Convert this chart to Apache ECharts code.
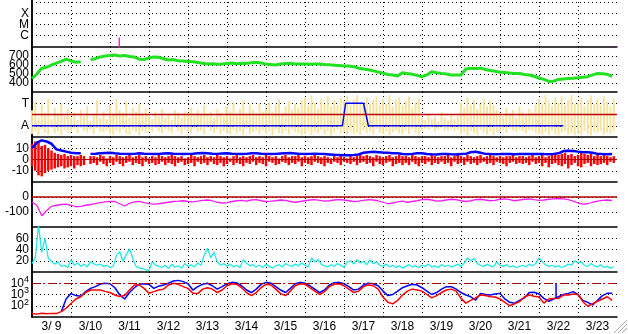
<!DOCTYPE html>
<html><head><meta charset="utf-8">
<script src="https://cdn.jsdelivr.net/npm/echarts@6/dist/echarts.min.js"></script>
<style>html,body{margin:0;padding:0;background:#fff}#c{width:628px;height:334px}</style>
</head><body><div id="c"></div>
<script>
// ---- categories / tick labels ----
const days = ['3/ 9','3/10','3/11','3/12','3/13','3/14','3/15','3/16','3/17','3/18','3/19','3/20','3/21','3/22','3/23'];
const xrayClassLabels = {'-6':'C','-5':'M','-4':'X'};
const sectorLabels = {'135':'A','315':'T'};

// ---- X-ray flux (hours from 3/9 00:00, W/m2) ----
const xrayHours = [0, 53.6, 53.7, 53.8, 54.8, 55, 359.5, 360];
const xrayFlux  = [5e-8, 5e-8, 6.8e-7, 1.3e-7, 1.2e-7, 5e-8, 5e-8, 1.1e-7];

// ---- Solar wind speed (3-hourly, km/s) ----
const speed = [450,500,565,575,600,620,640,665,
 645,630,635,null,660,670,690,700,
 705,712,700,705,695,688,665,660,
 680,690,685,670,655,660,648,645,
 640,635,628,620,612,615,608,612,
 618,622,615,620,618,625,630,622,
 610,605,600,610,618,620,612,610,
 612,608,612,610,605,602,598,595,
 590,588,580,565,555,548,535,522,
 510,495,488,478,515,505,497,485,
 470,490,525,515,507,500,490,488,
 490,555,565,560,565,550,540,530,
 520,518,510,505,505,495,488,475,
 455,440,418,420,440,445,450,452,
 458,465,470,490,505,502,497,475];

// ---- IMF phi angle spread per 2 hours (deg): low / high ----
const phiLo = [70,95,60,110,80,65,120,75,90,60,100,85,
 90,110,75,120,95,80,105,70,115,90,85,100,
 75,60,95,80,110,70,65,100,85,60,90,75,
 100,85,120,90,75,110,95,80,125,90,70,105,
 90,75,110,85,100,70,120,95,80,105,65,90,
 80,65,100,75,90,60,110,70,85,95,70,100,
 75,90,60,105,80,70,95,65,110,85,75,60,
 70,95,60,85,75,100,65,90,60,80,105,70,
 85,65,95,70,80,60,100,75,90,65,110,80,
 70,90,60,85,100,75,65,95,70,110,80,65,
 95,110,100,120,90,105,115,95,100,110,90,100,
 70,85,60,95,75,65,100,80,70,90,60,85,
 90,100,80,110,95,85,105,90,75,100,95,80,
 70,60,85,65,95,70,60,80,90,65,75,60,
 80,65,90,70,60,85,75,95,65,80,70,90];
const phiHi = [260,330,200,300,240,350,190,280,230,310,210,270,
 200,240,180,260,210,290,170,230,340,200,250,190,
 300,220,350,260,240,330,200,280,250,310,220,270,
 220,190,250,210,270,200,230,180,260,240,200,250,
 240,280,210,260,220,300,230,250,200,270,240,210,
 290,250,320,230,270,340,220,300,260,230,310,250,
 270,320,250,300,350,240,290,330,260,310,280,340,
 360,300,380,320,270,350,310,370,290,340,300,360,
 330,370,300,350,380,320,290,360,310,340,370,300,
 350,310,380,290,340,360,300,330,370,280,320,350,
 200,180,230,190,210,170,240,200,180,220,190,210,
 320,280,360,300,340,270,310,350,290,330,300,260,
 240,210,280,230,260,200,290,250,220,270,240,300,
 350,310,380,330,290,360,320,370,300,340,380,310,
 320,360,290,340,380,310,350,300,370,330,290,350];

// ---- sector polarity (A=135, T=315) ----
const sectorHours = [0, 191, 193, 204, 207, 327];
const sectorValues = [135, 135, 315, 315, 135, 135];
const sectorMid = 225;

// ---- IMF Bt (3-hourly, nT) ----
const bt = [10,15,17,16,14,9,8,7,6,5.5,5.5,null,
 5.0,5.2,5.5,5.8,6.0,5.5,5.2,5.0,4.8,5.0,5.5,5.2,5.0,4.8,5.0,5.3,
 5.5,5.2,5.0,4.8,5.0,5.2,5.5,5.8,5.5,5.2,5.0,5.4,5.6,5.2,5.0,4.8,
 5.0,5.5,5.6,5.2,5.0,4.8,5.0,5.4,5.6,5.8,5.4,5.0,4.8,5.0,5.2,5.0,
 4.8,4.5,4.2,4.0,3.8,3.8,4.0,4.5,6.0,6.5,6.8,6.5,6.2,6.0,5.6,5.5,
 4.8,4.7,5.0,5.6,5.5,4.8,4.6,4.5,4.8,5.0,4.7,4.5,4.8,5.0,6.5,6.8,
 6.0,5.0,4.8,4.7,4.8,5.0,4.8,4.6,4.8,5.0,4.9,4.8,5.0,4.8,4.7,5.0,
 5.5,7.5,7.8,7.6,7.0,6.5,6.4,6.0,5.0,4.8,4.7,4.8];

// ---- IMF Bz spread per 2 hours (nT): high / low ----
const bzHi = [14,16,15,12,13,10,8,6,5,4,5,3,4,3,3,4,3,null,3,
 3,2,4,3,1,3,2,4,3,2,3,4,
 2,3,4,2,3,1,3,2,4,3,2,3,
 4,3,2,3,1,2,4,3,2,3,4,2,
 3,2,4,3,2,3,1,3,4,2,3,2,
 3,4,2,3,2,4,3,2,3,1,3,4,
 2,3,3,4,2,3,2,3,4,3,2,3,
 2,1,3,2,3,2,1,3,2,3,4,3,
 4,3,2,4,3,2,3,4,2,3,4,3,
 3,2,4,3,2,3,3,2,4,3,2,3,
 3,4,2,3,5,3,2,4,3,2,3,4,
 2,3,4,3,2,3,2,3,3,4,2,3,
 3,2,3,4,2,3,4,2,3,4,5,4,
 5,6,4,5,3,4,6,5,4,5,3,4,
 3,4,3,2,3];
const bzLo = [-6,-10,-14,-15,-12,-10,-9,-8,-7,-6,-8,-7,-6,-8,-5,-6,-5,null,-4,
 -3,-5,-2,-4,-6,-3,-5,-2,-4,-6,-3,-2,
 -5,-3,-4,-6,-2,-4,-3,-5,-4,-2,-5,-3,
 -4,-6,-3,-2,-5,-4,-3,-6,-2,-4,-3,-5,
 -2,-4,-5,-3,-6,-4,-2,-5,-3,-4,-6,-3,
 -4,-2,-5,-3,-4,-6,-2,-3,-5,-4,-2,-3,
 -5,-3,-4,-2,-6,-3,-4,-5,-2,-3,-4,-6,
 -3,-4,-2,-3,-5,-2,-3,-4,-2,-5,-3,-2,
 -4,-3,-6,-2,-4,-5,-3,-2,-6,-4,-3,-5,
 -3,-5,-2,-4,-6,-3,-4,-2,-5,-3,-4,-2,
 -4,-3,-6,-2,-4,-3,-5,-2,-4,-3,-5,-3,
 -2,-4,-3,-5,-2,-3,-4,-6,-3,-2,-4,-3,
 -4,-3,-5,-2,-4,-3,-6,-3,-7,-4,-3,-5,
 -6,-4,-8,-5,-3,-6,-7,-4,-3,-6,-4,-5,
 -4,-3,-5,-2,-3];

// ---- Dst (3-hourly, nT) ----
const dst = [-33,-55,-125,-90,-62,-55,-50,-48,-55,-65,-62,-55,
 -50,-44,-38,-32,-29,-30,-45,-60,-42,-32,-29,-38,
 -44,-48,-45,-40,-35,-30,-28,-25,-30,-32,-28,-22,
 -20,-25,-35,-40,-38,-30,-25,-22,-28,-20,-18,-25,
 -30,-28,-25,-20,-22,-30,-35,-30,-25,-20,-18,-22,
 -28,-25,-20,-18,-20,-25,-30,-28,-22,-18,-20,-25,
 -35,-45,-40,-32,-28,-35,-30,-25,-18,-15,-20,-28,
 -25,-20,-15,-18,-25,-30,-25,-18,-15,-20,-25,-22,
 -15,-12,-18,-25,-20,-15,-12,-18,-22,-20,-15,-12,
 -10,-12,-18,-28,-40,-48,-45,-35,-28,-22,-20,-22];

// ---- cyan index (2-hourly) ----
const cyanIdx = [15,25,83,35,60,24,19,14,18,10,12,8,22,12,16,10,14,9,18,15,
 12,14,10,12,8,10,30,36,19,31,41,25,10,7,6,4,3,18,12,10,
 8,12,6,14,9,11,7,15,10,13,
 9,16,12,30,42,25,35,18,12,15,
 10,14,9,12,8,22,16,11,13,9,
 12,8,14,10,7,11,13,9,15,12,
 10,14,11,16,12,9,25,18,22,14,
 11,9,13,10,15,12,8,18,20,14,
 22,16,19,13,21,15,18,12,10,14,
 9,12,8,11,7,10,13,9,11,8,
 12,10,14,9,11,8,13,10,12,9,
 11,14,10,16,25,20,24,15,12,10,
 14,11,9,18,12,10,13,9,11,8,
 10,12,9,14,11,15,25,18,13,10,
 12,9,11,8,10,14,12,20,16,18,
 12,10,15,11,9,13,8,10,7,9];

// ---- electron flux (3-hourly) ----
const eBlue = [null,null,null,null,null,null,
 30,400,1200,800,700,1800,3500,5000,8500,9800,9000,4000,900,400,1500,4000,8500,8500,8000,3500,5500,7000,10000,16000,18000,14000,9000,2500,5000,
 8000,10000,6000,3000,5000,9000,12000,11000,6000,2500,1500,3000,8000,12000,10000,5000,2500,1500,3500,9000,12000,10000,6000,3000,1500,2500,7000,11000,12000,9000,5000,2500,3000,7000,10000,9000,6000,2000,800,1000,2000,4000,6000,8000,7000,4000,2000,1000,1500,3000,5000,5000,3000,
 1500,900,630,320,1260,1000,900,1100,1260,400,200,170,300,500,1500,1600,1100,450,250,400,630,1000,1260,1800,1000,300,200,120,300,800,1260,1260];
const eRed = [20,18,22,19,21,20,
 30,60,160,400,630,1500,2500,2500,2500,1900,1500,900,650,800,2500,6900,7000,3500,1300,1800,2500,3000,7000,9800,8000,5000,3500,1300,1200,
 3000,4000,3000,1500,2500,6000,9000,8000,4000,1500,800,1500,4000,8000,7000,3000,1200,800,2000,6000,9000,8000,4000,2000,1000,1800,5000,8000,9000,6000,3000,1500,2000,5000,7000,6000,3000,600,200,150,300,900,2000,3000,2500,2000,1000,500,800,1500,2500,3000,2000,
 450,170,300,500,900,800,630,600,400,200,100,150,230,600,900,700,600,170,400,450,460,900,900,1100,1000,230,90,150,250,400,630,300];
const eSpikeHours = [322.5, 322.5];
const eSpikeFlux = [500, 10000];
const eThreshold = 1e4;

// ---- layout ----
const FONT = "'Liberation Sans', Arial, Helvetica, sans-serif";
const panelTops = [2, 47, 92, 137, 182, 227, 272];
const panelH = 45;
const dotted = {color:'#000', type:[1,3], width:1};
const black = {color:'#000', width:1.5};

function pairs(step, arr){ return arr.map((v,i)=>[i*step, v]); }
function zip(xs, ys){ return xs.map((x,i)=>[x, ys[i]]); }
function triples(step, lo, hi){ return lo.map((v,i)=>[i*step, v, hi[i]]); }

const grids = panelTops.map(t => ({left:32, right:11, top:t, height:panelH}));
grids.push({left:32, right:11, top:0, height:317});

const xAxes = panelTops.map((t,i) => ({
  type:'value', gridIndex:i, min:0, max:360, interval:24,
  position: i===6 ? 'top' : 'bottom',
  axisLine:{show: i!==6, onZero:false, lineStyle:black},
  axisTick:{show:false}, axisLabel:{show:false},
  splitLine:{show:true, showMinLine:false, showMaxLine:false, lineStyle:dotted}
}));
xAxes.push({type:'category', gridIndex:6, data:days, boundaryGap:true, position:'bottom',
  axisLine:{show:true, onZero:false, lineStyle:black}, axisTick:{show:false}, splitLine:{show:false},
  axisLabel:{show:true, interval:0, color:'#000', fontSize:12, fontFamily:FONT, margin:4}});
xAxes.push({type:'value', gridIndex:7, min:0, max:1, show:false});

const lbl = (fmt, extra) => Object.assign({show:true, color:'#000', fontSize:12, fontFamily:FONT, margin:3, formatter:fmt}, extra||{});
const yCommon = {axisLine:{show:false}, axisTick:{show:false},
  splitLine:{show:true, showMinLine:false, showMaxLine:false, lineStyle:dotted}};

const yAxes = [
  Object.assign({type:'log', logBase:10, gridIndex:0, min:1e-7, max:1e-3,
    axisLabel: lbl(v => xrayClassLabels[String(Math.round(Math.log10(v)))] || '')}, yCommon),
  Object.assign({type:'value', gridIndex:1, min:300, max:800, interval:100,
    axisLabel: lbl(v => (v>=400 && v<=700) ? String(v) : '')}, yCommon),
  Object.assign({type:'value', gridIndex:2, min:45, max:405, interval:90,
    axisLabel: lbl(v => sectorLabels[String(v)] || '')}, yCommon),
  Object.assign({type:'value', gridIndex:3, min:-20, max:20, interval:10,
    axisLabel: lbl(v => Math.abs(v)<=10 ? String(v) : '')}, yCommon),
  Object.assign({type:'value', gridIndex:4, min:-200, max:100, interval:100,
    axisLabel: lbl(v => (v===0 || v===-100) ? String(v) : '')}, yCommon),
  Object.assign({type:'value', gridIndex:5, min:0, max:80, interval:20,
    axisLabel: lbl(v => (v>=20 && v<=60) ? String(v) : '')}, yCommon),
  Object.assign({type:'log', logBase:10, gridIndex:6, min:10, max:1e5,
    axisLabel: lbl(v => { const e = Math.round(Math.log10(v)); return (e>=2 && e<=4) ? '10{s|'+e+'}' : ''; },
      {rich:{s:{fontSize:9, fontFamily:FONT, color:'#000', verticalAlign:'bottom', padding:[0,0,7,0]}}})}, yCommon),
  {type:'value', gridIndex:7, min:0, max:1, position:'right', axisLine:{show:true, lineStyle:black},
    axisTick:{show:false}, axisLabel:{show:false}, splitLine:{show:false}},
  {type:'value', gridIndex:7, min:0, max:1, position:'left', axisLine:{show:true, lineStyle:black},
    axisTick:{show:false}, axisLabel:{show:false}, splitLine:{show:false}}
];

const ln = (idx, data, color, width, extra) => Object.assign({
  type:'line', xAxisIndex:idx, yAxisIndex:idx, data:data, symbol:'none',
  lineStyle:{color:color, width:width}, itemStyle:{color:color}, silent:true, animation:false
}, extra||{});
const hline = (val, color, width, type) => ({silent:true, symbol:'none', label:{show:false},
  lineStyle:{color:color, width:width, type:type||'solid'}, data:[{yAxis:val}]});
const bars = (idx, data, color, spanHours) => ({
  type:'custom', xAxisIndex:idx, yAxisIndex:idx, data:data, silent:true, animation:false,
  encode:{x:0, y:[1,2]},
  renderItem:(params, api) => {
    const lo = api.value(1), hi = api.value(2);
    if (isNaN(lo) || isNaN(hi)) return;
    const x = api.value(0);
    const a = api.coord([x, Math.max(lo,hi)]), b = api.coord([x, Math.min(lo,hi)]);
    const w = api.size([spanHours, 0])[0];
    return {type:'rect', shape:{x:a[0]-w/2, y:a[1], width:w, height:Math.max(1, b[1]-a[1])}, style:{fill:color}};
  }
});

const series = [
  ln(0, zip(xrayHours, xrayFlux), '#e81ee8', 1),
  ln(1, pairs(3, speed), '#22e022', 3),
  bars(2, triples(2, phiLo, phiHi), '#f7e39b', 1.2),
  ln(2, zip(sectorHours, sectorValues), '#0000ff', 1.5, {markLine: hline(sectorMid, '#c00000', 1.3)}),
  ln(3, pairs(3, bt), '#0000ff', 2.5, {markLine: hline(0, '#b00000', 1.2)}),
  bars(3, triples(2, bzLo, bzHi), '#ff0000', 1.5),
  ln(4, pairs(3, dst), '#f020f0', 1.3, {markLine: hline(0, '#b00000', 1.5)}),
  ln(5, pairs(2, cyanIdx), '#22e8e8', 1.3),
  ln(6, pairs(3, eBlue), '#0000ff', 1.5),
  ln(6, pairs(3, eRed), '#ff0000', 1.5, {markLine: hline(eThreshold, '#b00000', 1.2, [8,3,2,3])}),
  ln(6, zip(eSpikeHours, eSpikeFlux), '#0000ff', 1.5)
];

const chart = echarts.init(document.getElementById('c'), null, {renderer:'canvas'});
chart.setOption({
  backgroundColor:'#fff', animation:false,
  grid:grids, xAxis:xAxes, yAxis:yAxes, series:series,
  graphic:[
    {type:'line', shape:{x1:627,y1:320,x2:614,y2:333}, style:{stroke:'#aaa', lineWidth:1}},
    {type:'line', shape:{x1:627,y1:324,x2:618,y2:333}, style:{stroke:'#aaa', lineWidth:1}},
    {type:'line', shape:{x1:627,y1:328,x2:622,y2:333}, style:{stroke:'#aaa', lineWidth:1}}
  ]
});
</script></body></html>
